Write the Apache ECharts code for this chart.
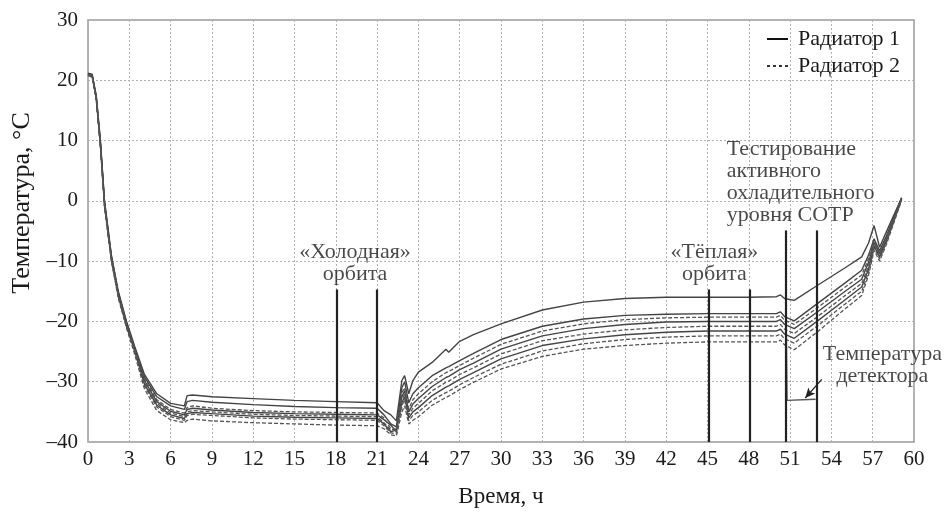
<!DOCTYPE html>
<html><head><meta charset="utf-8">
<script src="https://cdn.jsdelivr.net/npm/echarts@6/dist/echarts.min.js"></script>
<style>html,body{margin:0;padding:0;background:#fff}#c{width:944px;height:513px}</style>
</head><body><div id="c"></div>
<script>
// Time, hours
const hours = [0, 0.3, 0.6, 0.9, 1.2, 1.7, 2.2, 2.8, 3.4, 4.1, 5.0, 6.0, 7.0, 7.2, 7.6, 9, 12, 15, 18, 21, 21.5, 22.0, 22.4, 22.8, 23.0, 23.3, 23.6, 24, 25, 26, 26.2, 27, 28, 30, 33, 36, 39, 42, 45, 48, 50, 50.3, 50.6, 51.3, 53, 55, 56.2, 56.7, 57.1, 57.5, 58, 59.1];

// Радиатор 1 (solid lines)
const rad1_a = [21.2, 21.0, 17.5, 10.0, 0.0, -9.0, -15.0, -20.0, -24.2, -28.8, -32.0, -33.6, -34.0, -32.3, -32.2, -32.5, -32.8, -33.1, -33.3, -33.5, -34.8, -35.5, -36.5, -29.8, -29.0, -32.0, -29.8, -28.4, -26.8, -24.6, -25.1, -23.3, -22.2, -20.4, -18.1, -16.8, -16.2, -16.0, -16.0, -16.0, -15.9, -15.6, -16.2, -16.5, -14.0, -11.1, -9.3, -7.0, -4.1, -7.7, -5.1, 0.5];
const rad1_b = [21.1, 20.9, 17.3, 9.8, -0.2, -9.2, -15.2, -20.2, -24.4, -29.2, -32.5, -34.0, -34.6, -33.3, -33.1, -33.4, -33.8, -34.1, -34.3, -34.4, -35.5, -37.0, -37.5, -31.0, -30.0, -33.5, -32.0, -31.0, -29.0, -27.7, -27.5, -26.5, -25.3, -23.0, -20.8, -19.6, -19.0, -18.8, -18.7, -18.7, -18.7, -18.4, -19.2, -19.9, -17.0, -13.6, -11.5, -9.0, -6.3, -8.3, -5.8, 0.5];
const rad1_c = [21.0, 20.8, 17.1, 9.5, -0.5, -9.5, -15.5, -20.5, -24.6, -29.8, -33.3, -34.9, -35.5, -34.6, -34.4, -34.7, -35.1, -35.3, -35.4, -35.5, -36.3, -37.2, -38.3, -32.5, -31.5, -35.0, -33.7, -32.8, -30.8, -29.3, -29.1, -28.0, -26.9, -24.6, -22.4, -21.2, -20.5, -20.1, -20.0, -20.0, -20.0, -19.7, -20.5, -21.2, -18.4, -15.0, -13.0, -10.2, -6.9, -8.8, -6.2, 0.4];
const rad1_d = [20.9, 20.7, 16.9, 9.3, -0.7, -9.7, -15.8, -20.8, -25.0, -30.4, -33.9, -35.5, -36.1, -35.3, -35.1, -35.3, -35.7, -35.9, -36.0, -36.1, -37.0, -38.3, -38.0, -33.5, -32.5, -36.0, -35.0, -34.3, -32.3, -30.9, -30.7, -29.6, -28.5, -26.2, -24.0, -22.9, -22.2, -21.8, -21.6, -21.6, -21.6, -21.3, -22.1, -22.8, -19.9, -16.4, -14.3, -11.3, -7.5, -9.3, -6.6, 0.3];

// Радиатор 2 (dashed lines)
const rad2_a = [21.0, 20.8, 17.2, 9.6, -0.4, -9.4, -15.4, -20.4, -24.5, -29.5, -33.0, -34.6, -35.2, -34.3, -34.0, -34.4, -34.8, -35.0, -35.1, -35.2, -36.0, -37.8, -38.0, -31.8, -31.0, -34.5, -33.0, -32.0, -30.0, -28.5, -28.3, -27.3, -26.1, -23.8, -21.6, -20.4, -19.7, -19.4, -19.3, -19.3, -19.3, -19.0, -19.8, -20.5, -17.7, -14.3, -12.3, -9.6, -6.6, -8.6, -6.0, 0.4];
const rad2_b = [20.9, 20.7, 17.0, 9.4, -0.6, -9.6, -15.6, -20.6, -24.8, -30.1, -33.6, -35.2, -35.8, -35.0, -34.8, -35.0, -35.4, -35.6, -35.7, -35.8, -36.8, -38.0, -37.8, -33.0, -32.0, -35.5, -34.4, -33.6, -31.5, -30.1, -29.9, -28.8, -27.7, -25.4, -23.2, -22.1, -21.4, -21.0, -20.8, -20.8, -20.8, -20.5, -21.3, -22.0, -19.2, -15.7, -13.7, -10.8, -7.2, -9.0, -6.4, 0.3];
const rad2_c = [20.8, 20.6, 16.8, 9.2, -0.8, -9.8, -15.9, -20.9, -25.2, -30.7, -34.2, -35.8, -36.4, -35.6, -35.4, -35.6, -36.0, -36.2, -36.3, -36.4, -37.3, -38.5, -38.6, -34.0, -33.0, -36.5, -35.6, -35.0, -33.1, -31.8, -31.6, -30.5, -29.3, -27.1, -24.9, -23.7, -23.0, -22.6, -22.4, -22.4, -22.4, -22.1, -22.9, -23.6, -20.7, -17.1, -15.0, -11.8, -7.8, -9.6, -6.9, 0.2];
const rad2_d = [20.8, 20.5, 16.7, 9.0, -1.0, -10.0, -16.1, -21.1, -25.5, -31.2, -34.8, -36.3, -36.8, -36.4, -36.2, -36.5, -36.8, -37.0, -37.2, -37.3, -37.8, -38.8, -39.0, -35.0, -34.0, -37.0, -36.4, -35.8, -33.9, -32.6, -32.4, -31.3, -30.1, -27.9, -25.8, -24.6, -24.0, -23.6, -23.4, -23.4, -23.4, -23.1, -23.9, -24.7, -21.7, -17.9, -15.7, -12.3, -8.2, -10.0, -7.2, 0.1];

// Температура детектора
const detectorHours = [50.72, 50.78, 52.85];
const detectorTemp = [-21.0, -33.1, -32.9];

// Vertical marker lines (hours, top value)
const markerHours = [18.1, 21.0, 45.1, 48.1, 50.7, 52.9];
const markerTop = [-14.7, -14.7, -14.7, -14.7, -4.9, -4.9];
const markerBottom = -40;

// Arrow to detector line: [from, to]
const arrowFrom = [53.3, -29.6];
const arrowTo = [52.1, -32.7];

// Text annotations
const notes = [
  {text: '«Холодная»\nорбита', at: [19.4, -10.4], align: 'center'},
  {text: '«Тёплая»\nорбита', at: [45.5, -10.4], align: 'center'},
  {text: 'Тестирование\nактивного\nохладительного\nуровня СОТР', at: [46.4, 3.1], align: 'left'},
  {text: 'Температура\nдетектора', at: [57.7, -27.2], align: 'center'}
];

const legendNames = ['Радиатор 1', 'Радиатор 2'];
const xTicks = {min: 0, max: 60, step: 3};
const yTicks = {min: -40, max: 30, step: 10};
const yAxisTitle = 'Температура, °С';

const FONT = '"Liberation Serif", "DejaVu Serif", serif';
const TXT = '#1a1a1a';

const rad1 = [rad1_a, rad1_b, rad1_c, rad1_d];
const rad2 = [rad2_a, rad2_b, rad2_c, rad2_d];
const pairs = arr => hours.map((h, i) => [h, arr[i]]);

const series = [];
rad1.forEach(arr => series.push({
  name: legendNames[0], type: 'line', data: pairs(arr), symbol: 'none', silent: true,
  lineStyle: {color: '#444', width: 1.4}, itemStyle: {color: '#444'}
}));
rad2.forEach(arr => series.push({
  name: legendNames[1], type: 'line', data: pairs(arr), symbol: 'none', silent: true,
  lineStyle: {color: '#555', width: 1.3, type: [4, 2]}, itemStyle: {color: '#555'}
}));
series.push({
  name: 'detector', type: 'line', symbol: 'none', silent: true,
  data: detectorHours.map((h, i) => [h, detectorTemp[i]]),
  lineStyle: {color: '#555', width: 1.4},
  markLine: {
    silent: true, symbol: ['none', 'none'], animation: false,
    label: {show: false},
    lineStyle: {color: '#222', width: 2.2, type: 'solid'},
    data: markerHours.map((h, i) => [{coord: [h, markerTop[i]]}, {coord: [h, markerBottom]}])
  }
});
series.push({
  name: 'arrow', type: 'line', symbol: 'none', silent: true, data: [],
  markLine: {
    silent: true, symbol: ['none', 'arrow'], symbolSize: [7, 10], animation: false,
    label: {show: false},
    lineStyle: {color: '#222', width: 1.2, type: 'solid'},
    data: [[{coord: arrowFrom}, {coord: arrowTo}]]
  }
});
series.push({
  name: 'notes', type: 'scatter', symbolSize: 0, silent: true,
  data: notes.map(n => ({
    value: n.at,
    label: {
      show: true, formatter: n.text,
      position: n.align === 'left' ? 'right' : 'inside',
      distance: 0, align: n.align, verticalAlign: 'middle',
      fontFamily: FONT, fontSize: 22, lineHeight: 22, color: TXT
    }
  }))
});

const fmtY = v => (v < 0 ? '–' + Math.abs(v) : String(v));

const chart = echarts.init(document.getElementById('c'), null, {renderer: 'canvas'});
chart.setOption({
  animation: false,
  backgroundColor: '#fff',
  grid: {left: 88, top: 20, right: 30, bottom: 65, show: true, borderColor: '#9a9a9a', borderWidth: 1.5, backgroundColor: 'transparent'},
  legend: {
    orient: 'vertical', left: 762, top: 23, itemWidth: 21, itemHeight: 2, itemGap: 5,
    selectedMode: false,
    textStyle: {fontFamily: FONT, fontSize: 22, color: TXT, lineHeight: 21, padding: [0, 0, 0, 5]},
    data: [
      {name: legendNames[0], icon: 'rect', itemStyle: {color: '#111'}},
      {name: legendNames[1], icon: 'path://M0,0h3v2h-3zM6,0h3v2h-3zM12,0h3v2h-3zM18,0h3v2h-3z', itemStyle: {color: '#333'}}
    ]
  },
  graphic: [{
    type: 'text', x: 22, y: 203, rotation: Math.PI / 2,
    style: {text: yAxisTitle, fontFamily: FONT, fontSize: 26, fill: TXT, align: 'center', verticalAlign: 'middle'}
  }],
  xAxis: {
    type: 'value', min: xTicks.min, max: xTicks.max, interval: xTicks.step,
    name: 'Время, ч', nameLocation: 'middle', nameGap: 43,
    nameTextStyle: {fontFamily: FONT, fontSize: 23, color: TXT},
    axisLine: {show: false}, axisTick: {show: false},
    axisLabel: {fontFamily: FONT, fontSize: 21, color: TXT, margin: 7},
    splitLine: {show: true, lineStyle: {color: '#b0b0b0', width: 1, type: [2, 2]}}
  },
  yAxis: {
    type: 'value', min: yTicks.min, max: yTicks.max, interval: yTicks.step,
    axisLine: {show: false}, axisTick: {show: false},
    axisLabel: {fontFamily: FONT, fontSize: 21, color: TXT, margin: 10, formatter: fmtY},
    splitLine: {show: true, lineStyle: {color: '#b0b0b0', width: 1, type: [2, 2]}}
  },
  series: series
});
</script></body></html>
